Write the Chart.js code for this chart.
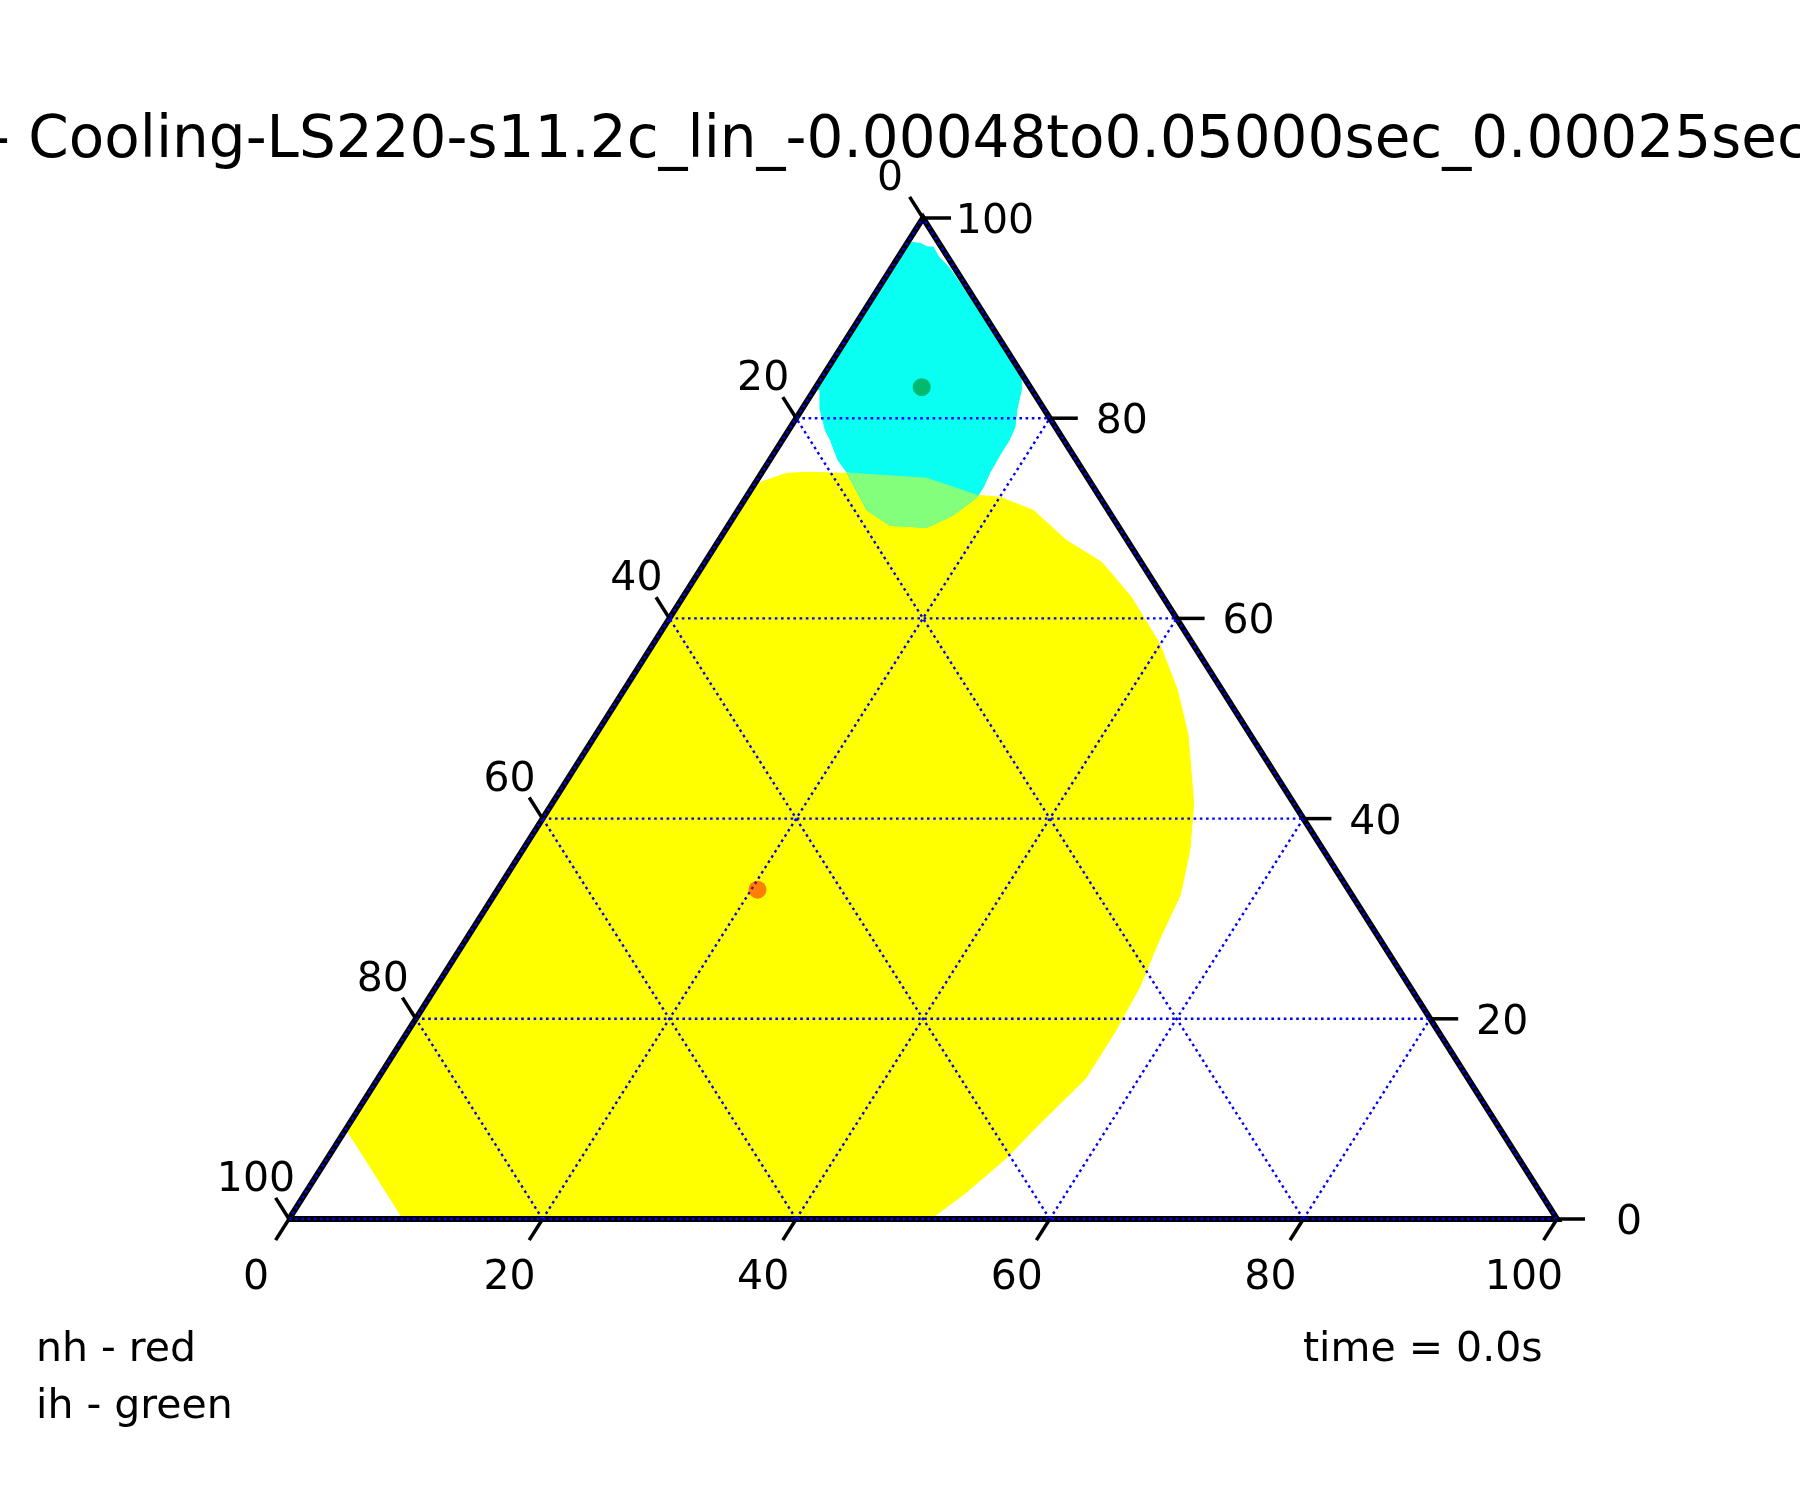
<!DOCTYPE html>
<html>
<head>
<meta charset="utf-8">
<title>Ternary heatmap</title>
<script src="https://cdn.jsdelivr.net/npm/chart.js@4.4.1/dist/chart.umd.min.js"></script>
<style>
    html, body { margin: 0; padding: 0; background: #fff; }
    canvas { display: block; }
</style>
</head>
<body>
<canvas id="ternary-chart" width="1800" height="1500"></canvas>
<script>
// points are [bottom, right] in percent, left = 100 - bottom - right
const tickValues = [0, 20, 40, 60, 80, 100];
const gridValues = [0, 20, 40, 60, 80, 100];

const titleText = '- Cooling-LS220-s11.2c_lin_-0.00048to0.05000sec_0.00025sec';
const legendLines = ['nh - red', 'ih - green'];
const timeText = 'time = 0.0s';

// yellow region (nh)
const yellowRegion = [
    [9, 0], [0, 9], [0, 73], [0.4, 73.6], [2, 74.5], [3.8, 74.6], [6.2, 74.5], [7, 74.5],
    [13.3, 74], [18.1, 72.3], [20, 72.1], [23.3, 70.8], [27.4, 67.8], [31.3, 65.6],
    [35.4, 62.1], [39.9, 57.5], [43.6, 52.9], [46.7, 48.4], [50.6, 41.5], [52.6, 36.9],
    [54.1, 32.4], [54.7, 27.8], [55.5, 23.2], [55.8, 18.6], [55.8, 14], [54.4, 9.4],
    [53.5, 6], [52, 2.5], [50.6, 0]
];

// cyan region (ih)
const cyanRegion = [
    [0.4, 97.6], [0, 97], [0, 83], [0.5, 82.8], [1.5, 80.8], [2.9, 78.8], [3.8, 77.8],
    [5.4, 75.8], [6.7, 74.6], [10.2, 70.8], [12.75, 69.3], [15.75, 69.1], [17.2, 70.3],
    [18.2, 72.1], [18.2, 73.1], [18, 74.5], [17.9, 76.3], [17.9, 77.8], [17.7, 79.1],
    [17, 80.8], [16.25, 83.1], [15.5, 84.5], [4.6, 95], [3.2, 96.1], [2.25, 97.1],
    [1.8, 97.1], [1, 97.5]
];

// overlap of both
const overlapRegion = [
    [6.7, 74.6], [7, 74.5], [13.3, 74], [18.1, 72.3], [18.2, 72.1], [17.2, 70.3],
    [15.75, 69.1], [12.75, 69.3], [10.2, 70.8]
];

const nhPoint = [20.5, 32.9];
const ihPoint = [8.35, 83.1];

const toXY = p => ({ x: p[0] + p[1] / 2, y: p[1] });

function regionSet(points, color, order) {
    return {
        type: 'line',
        data: points.map(toXY),
        fill: 'shape',
        backgroundColor: color,
        borderColor: color,
        borderWidth: 1,
        pointRadius: 0,
        tension: 0,
        clip: false,
        order: order
    };
}

function lineSet(points, color, width, dash, order) {
    return {
        type: 'line',
        data: points.map(toXY),
        fill: false,
        borderColor: color,
        borderWidth: width,
        borderDash: dash,
        borderCapStyle: 'butt',
        pointRadius: 0,
        tension: 0,
        clip: false,
        order: order
    };
}

const datasets = [];

// 1. heatmap regions
datasets.push(regionSet(yellowRegion, '#ffff00', 100));
datasets.push(regionSet(cyanRegion, '#08fff2', 99));
datasets.push(regionSet(overlapRegion, '#84ff7c', 98));

// 2. boundary
datasets.push(lineSet([[0, 0], [100, 0], [0, 100], [0, 0]], '#000', 6, [], 90));

// 3. dotted grid (0 and 100 fall on the boundary)
gridValues.forEach(k => {
    datasets.push(lineSet([[0, k], [100 - k, k]], '#0000ff', 2.4, [2.6, 3.6], 50));
    datasets.push(lineSet([[k, 0], [k, 100 - k]], '#0000ff', 2.4, [2.6, 3.6], 50));
    datasets.push(lineSet([[k, 0], [0, k]], '#0000ff', 2.4, [2.6, 3.6], 50));
});

// 4. markers
datasets.push({
    data: [toXY(nhPoint)],
    backgroundColor: 'rgba(255, 0, 0, 0.5)',
    borderWidth: 0,
    pointRadius: 9,
    clip: false,
    order: 1
});
datasets.push({
    data: [toXY(ihPoint)],
    backgroundColor: 'rgba(0, 128, 0, 0.55)',
    borderWidth: 0,
    pointRadius: 9,
    clip: false,
    order: 0
});

const ternaryAxes = {
    id: 'ternaryAxes',
    afterDraw(chart) {
        const { ctx, scales: { x, y } } = chart;
        const px = p => [x.getPixelForValue(p[0] + p[1] / 2), y.getPixelForValue(p[1])];
        const unit = (a, b) => {
            const dx = b[0] - a[0], dy = b[1] - a[1];
            const len = Math.hypot(dx, dy);
            return [dx / len, dy / len];
        };
        const downLeft = unit(px([0, 100]), px([0, 0]));
        const upLeft = unit(px([100, 0]), px([0, 100]));
        const tickLen = 25;
        const fontSize = 41;

        ctx.save();
        ctx.strokeStyle = '#000';
        ctx.lineWidth = 3.5;
        ctx.fillStyle = '#000';
        ctx.font = fontSize + 'px "DejaVu Sans"';
        ctx.textAlign = 'center';
        ctx.textBaseline = 'alphabetic';
        const digitShift = fontSize * 0.3645;

        const tick = (base, dir, len) => {
            ctx.beginPath();
            ctx.moveTo(base[0], base[1]);
            ctx.lineTo(base[0] + dir[0] * len, base[1] + dir[1] * len);
            ctx.stroke();
        };

        tickValues.forEach(k => {
            // bottom axis
            let b = px([k, 0]);
            tick(b, downLeft, tickLen);
            ctx.fillText(String(k), b[0] - 33, b[1] + 55 + digitShift);

            // left axis
            b = px([0, k]);
            tick(b, upLeft, tickLen);
            ctx.fillText(String(100 - k), b[0] - 33, b[1] - 43 + digitShift);

            // right axis
            b = px([100 - k, k]);
            tick(b, [1, 0], 28);
            ctx.fillText(String(k), b[0] + 72, b[1] + digitShift);
        });

        ctx.textAlign = 'left';
        ctx.fillText(legendLines[0], 36, 1361);
        ctx.fillText(legendLines[1], 36, 1418);
        ctx.fillText(timeText, 1303, 1361);

        ctx.font = '58px "DejaVu Sans"';
        ctx.fillText(titleText, -11, 157);
        ctx.restore();
    }
};

new Chart(document.getElementById('ternary-chart'), {
    type: 'scatter',
    data: { datasets },
    options: {
        responsive: false,
        animation: false,
        devicePixelRatio: 1,
        layout: { padding: { left: 289, right: 243, top: 218, bottom: 281 } },
        scales: {
            x: { type: 'linear', min: 0, max: 100, display: false },
            y: { type: 'linear', min: 0, max: 100, display: false }
        },
        plugins: {
            legend: { display: false },
            tooltip: { enabled: false },
            title: { display: false }
        }
    },
    plugins: [ternaryAxes]
});
</script>
</body>
</html>
